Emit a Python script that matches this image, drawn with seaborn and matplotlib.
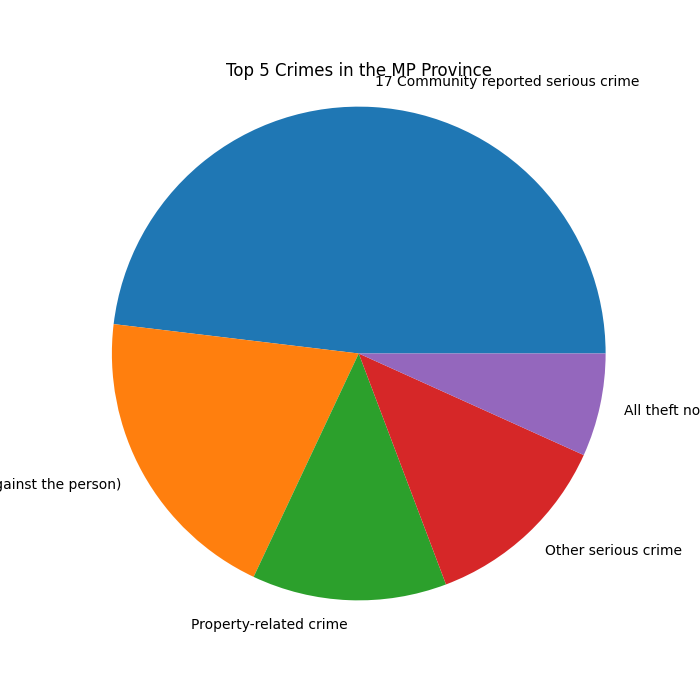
import matplotlib
matplotlib.use("Agg")
import matplotlib.pyplot as plt
import seaborn as sns

# Top 5 crime categories (share of cases)
crimes = ['17 Community reported serious crime',
          'Contact crime (Crimes against the person)',
          'Property-related crime',
          'Other serious crime',
          'All theft not mentioned elsewhere']
counts = [48.1, 19.9, 12.75, 12.5, 6.75]

colors = sns.color_palette('tab10', len(crimes))

fig, ax = plt.subplots(figsize=(7, 7), dpi=100)
ax.pie(counts, labels=crimes, colors=colors, radius=1.145)
ax.set_title('Top 5 Crimes in the MP Province')
plt.savefig('out.png')
